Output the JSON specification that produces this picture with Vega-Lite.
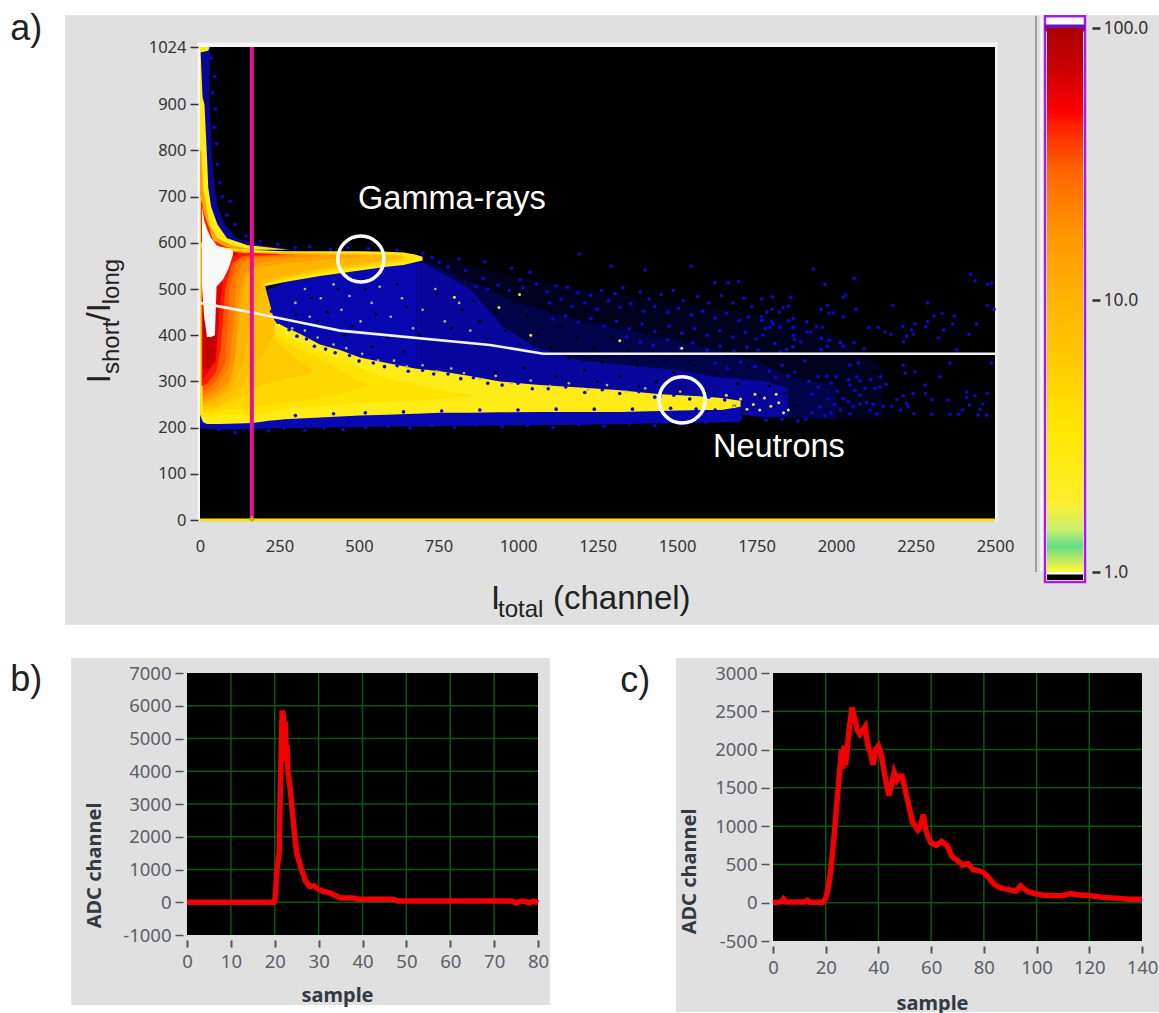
{
"$schema":"https://vega.github.io/schema/vega-lite/v6.json",
"background":"white",
"padding":{"left":10,"top":11,"right":0,"bottom":0},
"config":{"view":{"stroke":null},"font":"Noto Sans"},
"columns":2,
"align":"none",
"bounds":"flush",
"spacing":{"row":153,"column":50},
"concat":[
{"width":536,"height":473,
"encoding":{
"x":{"field":"x","type":"quantitative","scale":{"domain":[0,2500],"range":[13,808],"nice":false,"zero":false},
"axis":{"title":null,"values":[0,250,500,750,1000,1250,1500,1750,2000,2250,2500],"labelExpr":"''+datum.value","grid":false,"domain":false,"ticks":false,"labelPadding":18,"labelFontSize":16.5,"labelColor":"#333333","labelOverlap":false,"labelFlush":false,"zindex":1}},
"y":{"field":"y","type":"quantitative","scale":{"domain":[0,1024],"nice":false,"zero":false},
"axis":{"title":null,"values":[0,100,200,300,400,500,600,700,800,900,1024],"labelExpr":"''+datum.value","grid":false,"domain":false,"offset":-11,"tickSize":8,"tickColor":"#333333","tickWidth":1.5,"labelPadding":4,"labelFontSize":16.5,"labelColor":"#333333","labelOverlap":false,"labelFlush":false,"zindex":1}}
},
"layer":[
{"data":{"values":[{"x":-424.5,"x2":3016,"y":1093,"y2":-227}]},"mark":{"type":"rect","color":"#e0e0e0","clip":false},"encoding":{"x2":{"field":"x2"},"y2":{"field":"y2"}}},
{"data":{"values":[{"x":-8,"x2":0,"y":-3,"y2":1032},{"x":-8,"x2":2508,"y":1024,"y2":1034},{"x":2500,"x2":2508,"y":-3,"y2":1032}]},"mark":{"type":"rect","color":"#f6f6f6","clip":false},"encoding":{"x2":{"field":"x2"},"y2":{"field":"y2"}}},
{"data":{"values":[{"x":0,"x2":2500,"y":0,"y2":1024}]},"mark":{"type":"rect","color":"#000000"},"encoding":{"x2":{"field":"x2"},"y2":{"field":"y2"}}},
{"data":{"values":[
{"g":"s1","c":0.36,"x":680,"y":320,"y2":575},{"g":"s1","c":0.36,"x":800,"y":310,"y2":560},{"g":"s1","c":0.36,"x":1000,"y":290,"y2":525},{"g":"s1","c":0.36,"x":1200,"y":280,"y2":500},{"g":"s1","c":0.36,"x":1500,"y":260,"y2":470},{"g":"s1","c":0.36,"x":1800,"y":222,"y2":440},{"g":"s1","c":0.36,"x":2000,"y":218,"y2":400},{"g":"s1","c":0.36,"x":2150,"y":218,"y2":330},
{"g":"s2","c":0.47,"x":680,"y":322,"y2":570},{"g":"s2","c":0.47,"x":760,"y":315,"y2":545},{"g":"s2","c":0.47,"x":1000,"y":290,"y2":470},{"g":"s2","c":0.47,"x":1200,"y":282,"y2":430},{"g":"s2","c":0.47,"x":1500,"y":262,"y2":390},{"g":"s2","c":0.47,"x":1750,"y":222,"y2":345},{"g":"s2","c":0.47,"x":1850,"y":222,"y2":310},{"g":"s2","c":0.47,"x":2000,"y":218,"y2":290},
{"g":"s3","c":0.78,"x":680,"y":325,"y2":565},{"g":"s3","c":0.78,"x":760,"y":318,"y2":535},{"g":"s3","c":0.78,"x":850,"y":308,"y2":500},{"g":"s3","c":0.78,"x":950,"y":298,"y2":420},{"g":"s3","c":0.78,"x":1050,"y":290,"y2":375},{"g":"s3","c":0.78,"x":1200,"y":282,"y2":345},{"g":"s3","c":0.78,"x":1500,"y":260,"y2":325},{"g":"s3","c":0.78,"x":1620,"y":235,"y2":310},{"g":"s3","c":0.78,"x":1780,"y":222,"y2":300},{"g":"s3","c":0.78,"x":1850,"y":225,"y2":285},
{"g":"d1","c":0.88,"x":198,"y":470,"y2":495},{"g":"d1","c":0.88,"x":215,"y":450,"y2":500},{"g":"d1","c":0.88,"x":236,"y":420,"y2":505},{"g":"d1","c":0.88,"x":267,"y":410,"y2":515},{"g":"d1","c":0.88,"x":300,"y":402,"y2":520},{"g":"d1","c":0.88,"x":345,"y":385,"y2":530},{"g":"d1","c":0.88,"x":400,"y":370,"y2":538},{"g":"d1","c":0.88,"x":460,"y":355,"y2":545},{"g":"d1","c":0.88,"x":520,"y":345,"y2":550},{"g":"d1","c":0.88,"x":600,"y":335,"y2":556},{"g":"d1","c":0.88,"x":680,"y":325,"y2":570},
{"g":"b1","c":0.88,"x":0,"y":198,"y2":230},{"g":"b1","c":0.88,"x":100,"y":196,"y2":230},{"g":"b1","c":0.88,"x":195,"y":198,"y2":235},{"g":"b1","c":0.88,"x":560,"y":202,"y2":240},{"g":"b1","c":0.88,"x":1200,"y":206,"y2":240},{"g":"b1","c":0.88,"x":1700,"y":212,"y2":262}
]},"mark":{"type":"area","clip":false,"opacity":1,"line":false},"encoding":{"y2":{"field":"y2"},"detail":{"field":"g","type":"nominal"},
"color":{"field":"c","type":"quantitative","legend":null,"scale":{"type":"log","domain":[0.3,0.9,0.99,1,1.24,1.43,1.79,3.24,5.67,10,16.9,29.6,44,49,73,100,101,120],"range":["#000000","#0808b4","#0808b4","#ffff30","#66dd88","#c8f070","#ffee30","#ffe800","#ffcc00","#ffb400","#ff9800","#ff6600","#ff2000","#ff0000","#c80000","#aa0000","#f8f8f8","#f8f8f8"],"interpolate":"rgb"}}}},
{"data":{"values":[
{"g":"t0","c":0.75,"y":1024,"x":0,"x2":32},{"g":"t0","c":0.75,"y":916,"x":0,"x2":30},{"g":"t0","c":0.75,"y":786,"x":0,"x2":38},{"g":"t0","c":0.75,"y":720,"x":0,"x2":46},{"g":"t0","c":0.75,"y":678,"x":0,"x2":56},{"g":"t0","c":0.75,"y":640,"x":0,"x2":78},{"g":"t0","c":0.75,"y":610,"x":0,"x2":115},{"g":"t0","c":0.75,"y":595,"x":0,"x2":190},{"g":"t0","c":0.75,"y":585,"x":0,"x2":300},
{"g":"t1","c":2.5,"y":1024,"x":0,"x2":30},{"g":"t1","c":2.5,"y":1016,"x":0,"x2":26},{"g":"t1","c":2.5,"y":1012,"x":0,"x2":2},{"g":"t1","c":2.5,"y":916,"x":0,"x2":8},{"g":"t1","c":2.5,"y":900,"x":0,"x2":14},{"g":"t1","c":2.5,"y":786,"x":0,"x2":22},{"g":"t1","c":2.5,"y":720,"x":0,"x2":26},{"g":"t1","c":2.5,"y":678,"x":0,"x2":35},{"g":"t1","c":2.5,"y":640,"x":0,"x2":55},{"g":"t1","c":2.5,"y":610,"x":0,"x2":85},{"g":"t1","c":2.5,"y":595,"x":0,"x2":150},{"g":"t1","c":2.5,"y":585,"x":0,"x2":280},
{"g":"t2","c":14,"y":800,"x":0,"x2":4},{"g":"t2","c":14,"y":720,"x":0,"x2":10},{"g":"t2","c":14,"y":678,"x":0,"x2":20},{"g":"t2","c":14,"y":640,"x":0,"x2":30},{"g":"t2","c":14,"y":610,"x":0,"x2":55},{"g":"t2","c":14,"y":595,"x":0,"x2":100},{"g":"t2","c":14,"y":585,"x":0,"x2":170},
{"g":"t3","c":45,"y":690,"x":0,"x2":5},{"g":"t3","c":45,"y":660,"x":0,"x2":14},{"g":"t3","c":45,"y":630,"x":0,"x2":30},{"g":"t3","c":45,"y":606,"x":0,"x2":40},{"g":"t3","c":45,"y":593,"x":0,"x2":75},{"g":"t3","c":45,"y":583,"x":0,"x2":120}
]},"mark":{"type":"area","orient":"horizontal","opacity":1,"line":false},"encoding":{"x2":{"field":"x2"},"detail":{"field":"g","type":"nominal"},
"color":{"field":"c","type":"quantitative","legend":null,"scale":{"type":"log","domain":[0.3,0.9,0.99,1,1.24,1.43,1.79,3.24,5.67,10,16.9,29.6,44,49,73,100,101,120],"range":["#000000","#0808b4","#0808b4","#ffff30","#66dd88","#c8f070","#ffee30","#ffe800","#ffcc00","#ffb400","#ff9800","#ff6600","#ff2000","#ff0000","#c80000","#aa0000","#f8f8f8","#f8f8f8"],"interpolate":"rgb"}}}},
{"data":{"values":[
{"g":"h","c":2.5,"x":0,"y":228,"y2":600},{"g":"h","c":2.5,"x":9,"y":212,"y2":600},{"g":"h","c":2.5,"x":22,"y":208,"y2":600},{"g":"h","c":2.5,"x":60,"y":208,"y2":590},{"g":"h","c":2.5,"x":120,"y":209,"y2":586},{"g":"h","c":2.5,"x":165,"y":210,"y2":584},{"g":"h","c":2.5,"x":190,"y":212,"y2":560},{"g":"h","c":2.5,"x":200,"y":213,"y2":500},{"g":"h","c":2.5,"x":215,"y":215,"y2":460},{"g":"h","c":2.5,"x":236,"y":216,"y2":430},{"g":"h","c":2.5,"x":267,"y":218,"y2":418},{"g":"h","c":2.5,"x":314,"y":220,"y2":403},{"g":"h","c":2.5,"x":377,"y":222,"y2":380},{"g":"h","c":2.5,"x":440,"y":224,"y2":368},{"g":"h","c":2.5,"x":503,"y":226,"y2":352},{"g":"h","c":2.5,"x":588,"y":228,"y2":340},{"g":"h","c":2.5,"x":676,"y":230,"y2":328},{"g":"h","c":2.5,"x":755,"y":232,"y2":322},{"g":"h","c":2.5,"x":849,"y":232,"y2":312},{"g":"h","c":2.5,"x":943,"y":233,"y2":300},{"g":"h","c":2.5,"x":1069,"y":234,"y2":292},{"g":"h","c":2.5,"x":1195,"y":234,"y2":287},{"g":"h","c":2.5,"x":1321,"y":234,"y2":281},{"g":"h","c":2.5,"x":1447,"y":236,"y2":272},{"g":"h","c":2.5,"x":1572,"y":238,"y2":268},{"g":"h","c":2.5,"x":1640,"y":238,"y2":264},{"g":"h","c":2.5,"x":1700,"y":245,"y2":258},
{"g":"bh","c":2.5,"x":100,"y":500,"y2":586},{"g":"bh","c":2.5,"x":195,"y":505,"y2":584},{"g":"bh","c":2.5,"x":267,"y":515,"y2":582},{"g":"bh","c":2.5,"x":377,"y":528,"y2":582},{"g":"bh","c":2.5,"x":503,"y":540,"y2":582},{"g":"bh","c":2.5,"x":588,"y":548,"y2":581},{"g":"bh","c":2.5,"x":640,"y":552,"y2":579},{"g":"bh","c":2.5,"x":676,"y":558,"y2":575},{"g":"bh","c":2.5,"x":700,"y":562,"y2":570},
{"g":"w35","c":3.5,"x":9,"y":225,"y2":595},{"g":"w35","c":3.5,"x":40,"y":222,"y2":592},{"g":"w35","c":3.5,"x":79,"y":230,"y2":590},{"g":"w35","c":3.5,"x":120,"y":228,"y2":586},{"g":"w35","c":3.5,"x":165,"y":225,"y2":583},{"g":"w35","c":3.5,"x":190,"y":228,"y2":560},{"g":"w35","c":3.5,"x":215,"y":232,"y2":470},{"g":"w35","c":3.5,"x":236,"y":236,"y2":420},{"g":"w35","c":3.5,"x":267,"y":240,"y2":400},{"g":"w35","c":3.5,"x":314,"y":243,"y2":385},{"g":"w35","c":3.5,"x":377,"y":247,"y2":365},{"g":"w35","c":3.5,"x":440,"y":250,"y2":345},{"g":"w35","c":3.5,"x":503,"y":253,"y2":330},{"g":"w35","c":3.5,"x":588,"y":256,"y2":305},{"g":"w35","c":3.5,"x":676,"y":258,"y2":295},{"g":"w35","c":3.5,"x":755,"y":262,"y2":280},{"g":"w35","c":3.5,"x":849,"y":268,"y2":272},
{"g":"b35","c":3.5,"x":195,"y":510,"y2":581},{"g":"b35","c":3.5,"x":377,"y":532,"y2":580},{"g":"b35","c":3.5,"x":503,"y":545,"y2":578},{"g":"b35","c":3.5,"x":676,"y":562,"y2":574},
{"g":"w45","c":4.5,"x":9,"y":232,"y2":590},{"g":"w45","c":4.5,"x":40,"y":232,"y2":588},{"g":"w45","c":4.5,"x":79,"y":240,"y2":586},{"g":"w45","c":4.5,"x":120,"y":240,"y2":584},{"g":"w45","c":4.5,"x":165,"y":242,"y2":582},{"g":"w45","c":4.5,"x":190,"y":245,"y2":555},{"g":"w45","c":4.5,"x":215,"y":248,"y2":450},{"g":"w45","c":4.5,"x":236,"y":250,"y2":405},{"g":"w45","c":4.5,"x":267,"y":255,"y2":385},{"g":"w45","c":4.5,"x":314,"y":258,"y2":370},{"g":"w45","c":4.5,"x":377,"y":265,"y2":350},{"g":"w45","c":4.5,"x":440,"y":272,"y2":325},{"g":"w45","c":4.5,"x":503,"y":285,"y2":300},{"g":"w45","c":4.5,"x":530,"y":292,"y2":294},
{"g":"b5","c":5,"x":195,"y":512,"y2":580},{"g":"b5","c":5,"x":377,"y":536,"y2":579},{"g":"b5","c":5,"x":503,"y":548,"y2":577},{"g":"b5","c":5,"x":640,"y":560,"y2":572},
{"g":"w6","c":6,"x":9,"y":238,"y2":590},{"g":"w6","c":6,"x":40,"y":240,"y2":587},{"g":"w6","c":6,"x":79,"y":250,"y2":585},{"g":"w6","c":6,"x":120,"y":262,"y2":582},{"g":"w6","c":6,"x":165,"y":280,"y2":580},{"g":"w6","c":6,"x":190,"y":290,"y2":545},{"g":"w6","c":6,"x":215,"y":296,"y2":440},{"g":"w6","c":6,"x":236,"y":302,"y2":390},{"g":"w6","c":6,"x":267,"y":305,"y2":370},{"g":"w6","c":6,"x":314,"y":312,"y2":345},{"g":"w6","c":6,"x":350,"y":320,"y2":330},
{"g":"w75","c":7.5,"x":9,"y":245,"y2":590},{"g":"w75","c":7.5,"x":50,"y":247,"y2":587},{"g":"w75","c":7.5,"x":79,"y":257,"y2":585},{"g":"w75","c":7.5,"x":110,"y":272,"y2":582},{"g":"w75","c":7.5,"x":140,"y":300,"y2":580},{"g":"w75","c":7.5,"x":165,"y":330,"y2":578},{"g":"w75","c":7.5,"x":190,"y":350,"y2":540},{"g":"w75","c":7.5,"x":215,"y":380,"y2":480},{"g":"w75","c":7.5,"x":236,"y":410,"y2":425},
{"g":"b75","c":7.5,"x":150,"y":500,"y2":580},{"g":"b75","c":7.5,"x":267,"y":525,"y2":578},{"g":"b75","c":7.5,"x":377,"y":542,"y2":577},{"g":"b75","c":7.5,"x":503,"y":553,"y2":575},{"g":"b75","c":7.5,"x":588,"y":562,"y2":574},{"g":"b75","c":7.5,"x":640,"y":568,"y2":572},
{"g":"c10","c":10,"x":9,"y":250,"y2":590},{"g":"c10","c":10,"x":50,"y":258,"y2":587},{"g":"c10","c":10,"x":79,"y":272,"y2":585},{"g":"c10","c":10,"x":110,"y":300,"y2":582},{"g":"c10","c":10,"x":135,"y":340,"y2":580},{"g":"c10","c":10,"x":160,"y":440,"y2":578},{"g":"c10","c":10,"x":195,"y":520,"y2":577},{"g":"c10","c":10,"x":267,"y":528,"y2":577},{"g":"c10","c":10,"x":377,"y":546,"y2":576},{"g":"c10","c":10,"x":503,"y":556,"y2":575},{"g":"c10","c":10,"x":588,"y":565,"y2":573},
{"g":"c14","c":14,"x":9,"y":255,"y2":590},{"g":"c14","c":14,"x":50,"y":265,"y2":587},{"g":"c14","c":14,"x":85,"y":285,"y2":585},{"g":"c14","c":14,"x":105,"y":320,"y2":583},{"g":"c14","c":14,"x":122,"y":425,"y2":582},{"g":"c14","c":14,"x":140,"y":525,"y2":580},{"g":"c14","c":14,"x":170,"y":545,"y2":578},{"g":"c14","c":14,"x":267,"y":556,"y2":576},{"g":"c14","c":14,"x":377,"y":563,"y2":574},{"g":"c14","c":14,"x":503,"y":570,"y2":573},
{"g":"c18","c":18,"x":9,"y":258,"y2":590},{"g":"c18","c":18,"x":50,"y":275,"y2":586},{"g":"c18","c":18,"x":90,"y":300,"y2":584},{"g":"c18","c":18,"x":110,"y":350,"y2":582},{"g":"c18","c":18,"x":122,"y":480,"y2":580},{"g":"c18","c":18,"x":135,"y":530,"y2":578},{"g":"c18","c":18,"x":190,"y":558,"y2":577},{"g":"c18","c":18,"x":267,"y":565,"y2":576},{"g":"c18","c":18,"x":377,"y":570,"y2":574},
{"g":"c24","c":24,"x":9,"y":268,"y2":588},{"g":"c24","c":24,"x":50,"y":285,"y2":586},{"g":"c24","c":24,"x":90,"y":330,"y2":584},{"g":"c24","c":24,"x":105,"y":420,"y2":582},{"g":"c24","c":24,"x":115,"y":520,"y2":580},{"g":"c24","c":24,"x":135,"y":560,"y2":578},{"g":"c24","c":24,"x":195,"y":568,"y2":577},{"g":"c24","c":24,"x":300,"y":571,"y2":575},
{"g":"c32","c":32,"x":9,"y":278,"y2":588},{"g":"c32","c":32,"x":50,"y":300,"y2":586},{"g":"c32","c":32,"x":79,"y":340,"y2":585},{"g":"c32","c":32,"x":94,"y":500,"y2":582},{"g":"c32","c":32,"x":110,"y":550,"y2":580},{"g":"c32","c":32,"x":135,"y":568,"y2":578},{"g":"c32","c":32,"x":267,"y":573,"y2":575},
{"g":"c45","c":45,"x":5,"y":290,"y2":590},{"g":"c45","c":45,"x":22,"y":295,"y2":590},{"g":"c45","c":45,"x":50,"y":320,"y2":586},{"g":"c45","c":45,"x":65,"y":370,"y2":585},{"g":"c45","c":45,"x":80,"y":500,"y2":582},{"g":"c45","c":45,"x":100,"y":555,"y2":580},{"g":"c45","c":45,"x":135,"y":572,"y2":578},{"g":"c45","c":45,"x":250,"y":574,"y2":576},
{"g":"c60","c":60,"x":9,"y":305,"y2":590},{"g":"c60","c":60,"x":25,"y":320,"y2":590},{"g":"c60","c":60,"x":50,"y":345,"y2":586},{"g":"c60","c":60,"x":62,"y":460,"y2":584},{"g":"c60","c":60,"x":80,"y":560,"y2":580},{"g":"c60","c":60,"x":120,"y":575,"y2":578},
{"g":"c75","c":75,"x":9,"y":325,"y2":450},{"g":"c75","c":75,"x":30,"y":330,"y2":420},{"g":"c75","c":75,"x":45,"y":345,"y2":450},{"g":"c75","c":75,"x":52,"y":400,"y2":470},
{"g":"wh","c":110,"x":6,"y":510,"y2":680},{"g":"wh","c":110,"x":13,"y":440,"y2":650},{"g":"wh","c":110,"x":22,"y":396,"y2":630},{"g":"wh","c":110,"x":35,"y":396,"y2":610},{"g":"wh","c":110,"x":47,"y":400,"y2":600},{"g":"wh","c":110,"x":52,"y":505,"y2":595},{"g":"wh","c":110,"x":72,"y":520,"y2":590},{"g":"wh","c":110,"x":90,"y":545,"y2":586},{"g":"wh","c":110,"x":104,"y":575,"y2":583}
]},"mark":{"type":"area","opacity":1,"line":false},"encoding":{"y2":{"field":"y2"},"detail":{"field":"g","type":"nominal"},
"color":{"field":"c","type":"quantitative","legend":null,"scale":{"type":"log","domain":[0.3,0.9,0.99,1,1.24,1.43,1.79,3.24,5.67,10,16.9,29.6,44,49,73,100,101,120],"range":["#000000","#0808b4","#0808b4","#ffff30","#66dd88","#c8f070","#ffee30","#ffe800","#ffcc00","#ffb400","#ff9800","#ff6600","#ff2000","#ff0000","#c80000","#aa0000","#f8f8f8","#f8f8f8"],"interpolate":"rgb"}}}},
{"data":{"values":[{"x":0,"x2":3,"y":228,"y2":700},{"x":0,"x2":2500,"y":-3,"y2":3}]},"mark":{"type":"rect","color":"#f5e020","clip":false},"encoding":{"x2":{"field":"x2"},"y2":{"field":"y2"}}},
{"data":{"values":[
{"x":1929,"y":544},{"x":2057,"y":523},{"x":1965,"y":510},{"x":2423,"y":532},{"x":2437,"y":518},{"x":2477,"y":510},{"x":2489,"y":513},{"x":2031,"y":487},{"x":2023,"y":482},{"x":1766,"y":478},{"x":1800,"y":483},{"x":1857,"y":482},{"x":1850,"y":463},{"x":1834,"y":460},{"x":1822,"y":450},{"x":1798,"y":456},{"x":1782,"y":450},{"x":1766,"y":440},{"x":1766,"y":432},{"x":1953,"y":456},{"x":1973,"y":465},{"x":2063,"y":456},{"x":1978,"y":448},{"x":1992,"y":448},{"x":2023,"y":440},{"x":2178,"y":465},{"x":2288,"y":470},{"x":2477,"y":465},{"x":2497,"y":456},{"x":2308,"y":442},{"x":2334,"y":447},{"x":2372,"y":441},{"x":1908,"y":429},{"x":1866,"y":436},{"x":1850,"y":431},{"x":1798,"y":429},{"x":1803,"y":424},{"x":1777,"y":414},{"x":1792,"y":417},{"x":1824,"y":417},{"x":1866,"y":417},{"x":1939,"y":419},{"x":1957,"y":417},{"x":2102,"y":417},{"x":2133,"y":417},{"x":2210,"y":419},{"x":2248,"y":425},{"x":2288,"y":429},{"x":2282,"y":419},{"x":2367,"y":424},{"x":2442,"y":425},{"x":2339,"y":411},{"x":1908,"y":407},{"x":1920,"y":407},{"x":2154,"y":407},{"x":2173,"y":402},{"x":2238,"y":411},{"x":2243,"y":402},{"x":2222,"y":398},{"x":2212,"y":386},{"x":2322,"y":394},{"x":2418,"y":402},{"x":1771,"y":400},{"x":1866,"y":400},{"x":1869,"y":391},{"x":1808,"y":382},{"x":1889,"y":386},{"x":1955,"y":393},{"x":1979,"y":389},{"x":2013,"y":384},{"x":2057,"y":384},{"x":1973,"y":376},{"x":2023,"y":376},{"x":1953,"y":369},{"x":2088,"y":371},{"x":1845,"y":369},{"x":1864,"y":375},{"x":2379,"y":369},{"x":1824,"y":364},
{"x":1902,"y":344},{"x":2044,"y":335},{"x":2070,"y":340},{"x":2212,"y":335},{"x":2217,"y":318},{"x":2248,"y":321},{"x":2358,"y":340},{"x":2489,"y":340},{"x":2327,"y":310},{"x":2140,"y":310},{"x":2157,"y":294},{"x":2109,"y":304},{"x":2075,"y":301},{"x":2065,"y":310},{"x":2039,"y":304},{"x":2000,"y":310},{"x":1971,"y":311},{"x":1944,"y":310},{"x":2280,"y":292},{"x":2282,"y":274},{"x":2411,"y":277},{"x":2476,"y":274},{"x":2437,"y":269},{"x":2411,"y":265},{"x":2243,"y":274},{"x":2212,"y":269},{"x":2191,"y":261},{"x":2301,"y":261},{"x":2353,"y":259},{"x":2419,"y":249},{"x":2461,"y":251},{"x":2453,"y":239},{"x":2398,"y":238},{"x":2222,"y":252},{"x":2227,"y":245},{"x":2175,"y":246},{"x":2149,"y":246},{"x":2203,"y":238},{"x":2245,"y":230},{"x":2301,"y":229},{"x":2358,"y":229},{"x":2385,"y":229},{"x":2447,"y":227},{"x":2474,"y":227},{"x":2128,"y":230},{"x":2107,"y":238},{"x":2096,"y":254},{"x":2117,"y":251},{"x":2075,"y":270},{"x":2091,"y":285},{"x":2123,"y":285},{"x":2138,"y":288},{"x":2044,"y":292},{"x":2060,"y":281},{"x":2023,"y":263},{"x":2039,"y":256},{"x":2054,"y":245},{"x":2044,"y":230},{"x":2013,"y":238},{"x":2075,"y":251},
{"x":896,"y":559},{"x":980,"y":545},{"x":1038,"y":536},{"x":1193,"y":576},{"x":1294,"y":550},{"x":1399,"y":541},{"x":1546,"y":550},{"x":1619,"y":514},{"x":1661,"y":514},{"x":1693,"y":516},{"x":891,"y":523},{"x":1006,"y":520},
{"x":868,"y":505},{"x":905,"y":500},{"x":938,"y":508},{"x":972,"y":497},{"x":1015,"y":503},{"x":1058,"y":511},{"x":1092,"y":494},{"x":1120,"y":507},{"x":1155,"y":504},{"x":1188,"y":492},{"x":1228,"y":486},{"x":1262,"y":497},{"x":1305,"y":490},{"x":1330,"y":503},{"x":1385,"y":494},{"x":1412,"y":479},{"x":1450,"y":488},{"x":1488,"y":497},{"x":1520,"y":475},{"x":1565,"y":484},{"x":1600,"y":470},{"x":1640,"y":486},{"x":1675,"y":470},{"x":1710,"y":480},{"x":1735,"y":462},
{"x":1100,"y":470},{"x":1135,"y":478},{"x":1170,"y":462},{"x":1210,"y":470},{"x":1248,"y":456},{"x":1285,"y":474},{"x":1320,"y":460},{"x":1355,"y":468},{"x":1395,"y":452},{"x":1430,"y":462},{"x":1470,"y":450},{"x":1505,"y":458},{"x":1545,"y":444},{"x":1580,"y":452},{"x":1620,"y":438},{"x":1655,"y":448},{"x":1695,"y":432},{"x":1725,"y":440},
{"x":1110,"y":435},{"x":1150,"y":442},{"x":1190,"y":428},{"x":1230,"y":436},{"x":1270,"y":420},{"x":1310,"y":430},{"x":1350,"y":414},{"x":1390,"y":424},{"x":1430,"y":408},{"x":1475,"y":420},{"x":1515,"y":404},{"x":1555,"y":414},{"x":1595,"y":400},{"x":1635,"y":410},{"x":1675,"y":396},{"x":1715,"y":406},{"x":1748,"y":392},
{"x":1340,"y":396},{"x":1385,"y":385},{"x":1425,"y":378},{"x":1470,"y":390},{"x":1510,"y":372},{"x":1550,"y":384},{"x":1595,"y":368},{"x":1635,"y":376},{"x":1680,"y":366},{"x":1720,"y":374},{"x":1755,"y":368},
{"x":1620,"y":340},{"x":1660,"y":328},{"x":1700,"y":342},{"x":1745,"y":332},{"x":1790,"y":322},{"x":1830,"y":335},{"x":1870,"y":320},{"x":1810,"y":308},{"x":1850,"y":312},{"x":1915,"y":300},{"x":1945,"y":288},{"x":1985,"y":296},{"x":2005,"y":278},{"x":1925,"y":272},{"x":1975,"y":262},{"x":1950,"y":245},{"x":1995,"y":250},{"x":1925,"y":232},{"x":1965,"y":226},{"x":1985,"y":232},{"x":1905,"y":218},{"x":1880,"y":214},{"x":1830,"y":218},{"x":1780,"y":216},
{"x":60,"y":196},{"x":110,"y":190},{"x":160,"y":197},{"x":215,"y":193},{"x":265,"y":199},{"x":330,"y":194},{"x":390,"y":199},{"x":450,"y":196},{"x":520,"y":201},{"x":590,"y":203},{"x":660,"y":199},{"x":730,"y":204},{"x":800,"y":200},{"x":870,"y":206},{"x":950,"y":202},{"x":1030,"y":205},{"x":1110,"y":200},{"x":1190,"y":207},{"x":1270,"y":203},{"x":1350,"y":209},{"x":1430,"y":204},{"x":1510,"y":208},{"x":1590,"y":212},{"x":1650,"y":216},{"x":1700,"y":221},{"x":1730,"y":231},
{"x":35,"y":1000},{"x":45,"y":960},{"x":40,"y":925},{"x":48,"y":890},{"x":44,"y":850},{"x":52,"y":815},{"x":55,"y":770},{"x":62,"y":730},{"x":70,"y":700},{"x":95,"y":690},{"x":85,"y":660},{"x":110,"y":640},{"x":145,"y":615},{"x":190,"y":603},{"x":245,"y":597},{"x":300,"y":590},{"x":345,"y":592},{"x":410,"y":586},{"x":465,"y":590},{"x":530,"y":588},{"x":620,"y":584},{"x":700,"y":578},{"x":730,"y":568},{"x":752,"y":558},{"x":780,"y":548},{"x":815,"y":565},{"x":835,"y":540},
{"x":225,"y":452},{"x":245,"y":428},{"x":280,"y":412},{"x":305,"y":398},{"x":335,"y":392},{"x":360,"y":376},{"x":395,"y":370},{"x":425,"y":362},{"x":470,"y":356},{"x":500,"y":344},{"x":545,"y":340},{"x":580,"y":332},{"x":620,"y":334},{"x":655,"y":322},{"x":700,"y":324},{"x":735,"y":316},{"x":780,"y":316},{"x":820,"y":306},{"x":860,"y":308},{"x":905,"y":296},{"x":950,"y":292},{"x":1000,"y":296},{"x":1045,"y":284},{"x":1095,"y":284},{"x":1150,"y":288},{"x":1210,"y":276},{"x":1265,"y":282},{"x":1320,"y":274},{"x":1380,"y":278},{"x":1430,"y":266},{"x":1490,"y":270},{"x":1540,"y":262},{"x":1600,"y":266},{"x":1650,"y":260},
{"x":300,"y":226},{"x":420,"y":230},{"x":520,"y":232},{"x":640,"y":234},{"x":760,"y":236},{"x":880,"y":238},{"x":1000,"y":238},{"x":1120,"y":240},{"x":1240,"y":240},{"x":1360,"y":240},{"x":1480,"y":242},{"x":1560,"y":240},{"x":1620,"y":238},{"x":1680,"y":246}
]},"mark":{"type":"circle","size":13,"opacity":1,"color":"#0a0ad0","clip":false}},
{"data":{"values":[
{"x":700,"y":455},{"x":745,"y":490},{"x":790,"y":415},{"x":825,"y":455},{"x":860,"y":475},{"x":880,"y":430},{"x":905,"y":385},{"x":930,"y":450},{"x":960,"y":410},{"x":985,"y":470},{"x":1005,"y":380},{"x":1030,"y":440},{"x":1060,"y":405},{"x":1085,"y":455},{"x":1105,"y":375},{"x":1135,"y":418},{"x":1160,"y":350},{"x":1185,"y":395},{"x":1210,"y":325},{"x":1240,"y":372},{"x":1265,"y":342},{"x":1295,"y":395},{"x":1320,"y":310},{"x":1345,"y":365},{"x":1375,"y":335},{"x":1405,"y":400},{"x":1435,"y":300},{"x":1460,"y":345},{"x":1490,"y":320},{"x":1525,"y":385},{"x":1555,"y":335},{"x":1590,"y":280},{"x":1620,"y":315},{"x":1655,"y":355},{"x":1690,"y":295},{"x":1725,"y":330},{"x":1760,"y":270},{"x":1790,"y":290},{"x":1840,"y":275},{"x":1870,"y":248},{"x":930,"y":320},{"x":1020,"y":330},{"x":1120,"y":310},{"x":1250,"y":300},{"x":1380,"y":290},{"x":1510,"y":285}
]},"mark":{"type":"circle","size":9,"opacity":1,"color":"#000000","clip":false}},
{"data":{"values":[
{"x":300,"y":470},{"x":330,"y":500},{"x":345,"y":440},{"x":380,"y":480},{"x":420,"y":510},{"x":445,"y":455},{"x":470,"y":485},{"x":505,"y":430},{"x":540,"y":470},{"x":565,"y":505},{"x":600,"y":440},{"x":635,"y":480},{"x":670,"y":415},{"x":700,"y":455},{"x":740,"y":500},{"x":770,"y":430},{"x":815,"y":470},{"x":850,"y":410},{"x":290,"y":415},{"x":330,"y":410},{"x":370,"y":395},{"x":420,"y":380},{"x":460,"y":372},{"x":510,"y":360},{"x":560,"y":345},{"x":610,"y":345},{"x":650,"y":332},{"x":700,"y":335},{"x":745,"y":322},{"x":790,"y":328},{"x":830,"y":318},{"x":880,"y":305},{"x":930,"y":312},{"x":980,"y":296},{"x":1040,"y":302},{"x":1100,"y":290},{"x":1160,"y":296},{"x":1220,"y":282},{"x":1280,"y":292},{"x":1340,"y":278},{"x":1400,"y":285},{"x":1450,"y":268},{"x":1510,"y":278}
]},"mark":{"type":"circle","size":7,"opacity":1,"color":"#b8b878","clip":false}},
{"data":{"values":[
{"x":800,"y":482},{"x":940,"y":460},{"x":1005,"y":488},{"x":1040,"y":400},{"x":1320,"y":388},{"x":1515,"y":372},{"x":1700,"y":262},{"x":1740,"y":250},{"x":1760,"y":238},{"x":1655,"y":270},{"x":1680,"y":245},{"x":1720,"y":240},{"x":1775,"y":264},{"x":1795,"y":246},{"x":1820,"y":254},{"x":1850,"y":238},{"x":1745,"y":272},{"x":1812,"y":272},{"x":1835,"y":232}
]},"mark":{"type":"circle","size":9,"opacity":1,"color":"#f2dc50","clip":false}},
{"data":{"values":[
{"x":350,"y":480},{"x":400,"y":450},{"x":435,"y":500},{"x":480,"y":420},{"x":520,"y":500},{"x":555,"y":445},{"x":590,"y":395},{"x":620,"y":510},{"x":650,"y":460},{"x":690,"y":400},{"x":300,"y":445},{"x":370,"y":430},{"x":455,"y":400},{"x":540,"y":375},{"x":640,"y":365}
]},"mark":{"type":"circle","size":8,"opacity":1,"color":"#000000","clip":false}},
{"data":{"values":[{"x":0,"y":470},{"x":157,"y":450},{"x":440,"y":410},{"x":912,"y":379},{"x":1079,"y":360},{"x":2500,"y":360}]},"mark":{"type":"line","color":"#f2f2f2","strokeWidth":2.6,"interpolate":"linear"}},
{"data":{"values":[{"x":163,"y":0,"y2":1024}]},"mark":{"type":"rule","color":"#e8109a","strokeWidth":4},"encoding":{"y2":{"field":"y2"}}},
{"data":{"values":[{"x":163,"y":2}]},"mark":{"type":"point","shape":"cross","size":30,"color":"#c8b020","filled":true,"opacity":1,"clip":false}},
{"data":{"values":[{"x":506,"y":565},{"x":1516,"y":260}]},"mark":{"type":"point","filled":false,"size":2124,"color":"#ffffff","strokeWidth":3.5,"opacity":1}},
{"data":{"values":[{"x":497,"y":695,"t":"Gamma-rays"},{"x":1613,"y":158,"t":"Neutrons"}]},"mark":{"type":"text","font":"Liberation Sans","fontSize":32.5,"align":"left","baseline":"middle","color":"#ffffff","clip":false},"encoding":{"text":{"field":"t"}}},
{"data":{"values":[{"x":915,"y":-172,"t":"I"},{"x":1110,"y":-172,"t":"(channel)"}]},"mark":{"type":"text","font":"Liberation Sans","fontSize":33,"align":"left","baseline":"middle","color":"#222222","clip":false},"encoding":{"text":{"field":"t"}}},
{"data":{"values":[{"x":937,"y":-195,"t":"total"}]},"mark":{"type":"text","font":"Liberation Sans","fontSize":24,"align":"left","baseline":"middle","color":"#222222","clip":false},"encoding":{"text":{"field":"t"}}},
{"data":{"values":[{"x":-597,"y":1062,"t":"a)"}]},"mark":{"type":"text","font":"Liberation Sans","fontSize":36,"align":"left","baseline":"middle","color":"#222222","clip":false},"encoding":{"text":{"field":"t"}}},
{"data":{"values":[{"x":-314,"y":296,"t":"I"},{"x":-314,"y":430,"t":"/I"}]},"mark":{"type":"text","font":"Liberation Sans","fontSize":33,"angle":270,"align":"left","baseline":"middle","color":"#222222","clip":false},"encoding":{"text":{"field":"t"}}},
{"data":{"values":[{"x":-277,"y":316,"t":"short"},{"x":-277,"y":467,"t":"long"}]},"mark":{"type":"text","font":"Liberation Sans","fontSize":24,"angle":270,"align":"left","baseline":"middle","color":"#222222","clip":false},"encoding":{"text":{"field":"t"}}}
]},
{"width":312,"height":473,
"encoding":{
"x":{"field":"x","type":"quantitative","scale":{"domain":[0,1],"range":[272,312],"nice":false,"zero":false},"axis":null},
"y":{"field":"v","type":"quantitative","scale":{"type":"log","domain":[1,100],"range":[525,-19],"nice":false},
"axis":{"title":null,"values":[1,10,100],"format":".1f","orient":"right","offset":7,"grid":false,"domain":false,"tickSize":8,"tickWidth":2.5,"tickColor":"#333333","labelPadding":3,"labelFontSize":17.5,"labelColor":"#333333","labelOverlap":false,"labelFlush":false,"zindex":1}}
},
"layer":[
{"data":{"values":[{"x":-0.12,"x2":-0.03,"v":1,"v2":111}]},"mark":{"type":"rect","color":"#f4f4f4","clip":false},"encoding":{"x2":{"field":"x2"},"y2":{"field":"v2"}}},
{"data":{"values":[{"x":-0.225,"v":1,"v2":111}]},"mark":{"type":"rule","color":"#a0a0a0","strokeWidth":2,"clip":false},"encoding":{"y2":{"field":"v2"}}},
{"data":{"values":[{"x":0,"x2":1,"v":0.918,"v2":110.5}]},"mark":{"type":"rect","color":"#ffffff","stroke":"#a81ee0","strokeWidth":2.5,"clip":false},"encoding":{"x2":{"field":"x2"},"y2":{"field":"v2"}}},
{"data":{"values":[{"x":0.05,"x2":0.95,"v":0.935,"v2":0.98}]},"mark":{"type":"rect","color":"#000000","clip":false},"encoding":{"x2":{"field":"x2"},"y2":{"field":"v2"}}},
{"data":{"values":[{"x":0,"x2":1,"v":97,"v2":103}]},"mark":{"type":"rect","color":"#7010c0","clip":false},"encoding":{"x2":{"field":"x2"},"y2":{"field":"v2"}}},
{"data":{"values":[{"x":0.05,"x2":0.95,"v":1,"v2":100}]},"mark":{"type":"rect","clip":false,"fill":{"gradient":"linear","x1":0,"y1":1,"x2":0,"y2":0,"stops":[{"offset":0,"color":"#ffff30"},{"offset":0.0127,"color":"#e0ee50"},{"offset":0.0467,"color":"#66dd88"},{"offset":0.0777,"color":"#c8f070"},{"offset":0.1264,"color":"#ffee30"},{"offset":0.2553,"color":"#ffe800"},{"offset":0.3768,"color":"#ffcc00"},{"offset":0.5,"color":"#ffb400"},{"offset":0.614,"color":"#ff9800"},{"offset":0.7357,"color":"#ff6600"},{"offset":0.8217,"color":"#ff2000"},{"offset":0.845,"color":"#ff0000"},{"offset":0.9317,"color":"#c80000"},{"offset":1,"color":"#aa0000"}]}},"encoding":{"x2":{"field":"x2"},"y2":{"field":"v2"}}}
]},
{"width":536,"height":262,
"encoding":{
"x":{"field":"x","type":"quantitative","scale":{"domain":[0,80],"range":[0,351],"nice":false,"zero":false},
"axis":{"title":"sample","titleX":150,"titleY":45,"titleFontWeight":"bold","titleFontSize":20,"titleColor":"#333a44","values":[0,10,20,30,40,50,60,70,80],"grid":false,"domain":false,"offset":5,"tickSize":7,"tickWidth":2,"tickColor":"#555555","labelPadding":5,"labelFontSize":18.5,"labelColor":"#5a6068","labelOverlap":false,"labelFlush":false,"zindex":1}},
"y":{"field":"y","type":"quantitative","scale":{"domain":[-1000,7000],"nice":false,"zero":false},
"axis":{"title":"ADC channel","titleX":-79,"titleY":192,"titleFontWeight":"bold","titleFontSize":20,"titleColor":"#333a44","values":[-1000,0,1000,2000,3000,4000,5000,6000,7000],"labelExpr":"''+datum.value","grid":false,"domain":false,"offset":4,"tickSize":8,"tickWidth":1.5,"tickColor":"#555555","labelPadding":4,"labelFontSize":18.5,"labelColor":"#5a6068","labelOverlap":false,"labelFlush":false,"zindex":1}}
},
"layer":[
{"data":{"values":[{"x":-26.4,"x2":82.7,"y":7458,"y2":-3137}]},"mark":{"type":"rect","color":"#e0e0e0","clip":false},"encoding":{"x2":{"field":"x2"},"y2":{"field":"y2"}}},
{"data":{"values":[{"x":0,"x2":80,"y":-1000,"y2":7000}]},"mark":{"type":"rect","color":"#000000"},"encoding":{"x2":{"field":"x2"},"y2":{"field":"y2"}}},
{"data":{"values":[{"x":10,"y":-1000,"y2":7000},{"x":20,"y":-1000,"y2":7000},{"x":30,"y":-1000,"y2":7000},{"x":40,"y":-1000,"y2":7000},{"x":50,"y":-1000,"y2":7000},{"x":60,"y":-1000,"y2":7000},{"x":70,"y":-1000,"y2":7000}]},"mark":{"type":"rule","color":"#0a5a0a","strokeWidth":1.5},"encoding":{"y2":{"field":"y2"}}},
{"data":{"values":[{"y":0,"x":0,"x2":80},{"y":1000,"x":0,"x2":80},{"y":2000,"x":0,"x2":80},{"y":3000,"x":0,"x2":80},{"y":4000,"x":0,"x2":80},{"y":5000,"x":0,"x2":80},{"y":6000,"x":0,"x2":80}]},"mark":{"type":"rule","color":"#0a5a0a","strokeWidth":1.5},"encoding":{"x2":{"field":"x2"}}},
{"data":{"values":[{"x":0,"y":0},{"x":19.8,"y":0},{"x":20,"y":50},{"x":20.2,"y":300},{"x":20.5,"y":1000},{"x":21,"y":1500},{"x":21.2,"y":3000},{"x":21.5,"y":4800},{"x":21.7,"y":5850},{"x":22,"y":5700},{"x":22.2,"y":4300},{"x":22.4,"y":5500},{"x":22.6,"y":4500},{"x":22.8,"y":4800},{"x":23,"y":4000},{"x":23.5,"y":3500},{"x":24,"y":2800},{"x":24.5,"y":2100},{"x":25,"y":1500},{"x":26,"y":1050},{"x":27,"y":650},{"x":28,"y":480},{"x":29,"y":500},{"x":30,"y":400},{"x":31,"y":330},{"x":32,"y":310},{"x":33,"y":260},{"x":34,"y":190},{"x":35,"y":130},{"x":38,"y":130},{"x":39,"y":90},{"x":47,"y":90},{"x":48,"y":40},{"x":74,"y":40},{"x":75,"y":-20},{"x":76,"y":30},{"x":77,"y":30},{"x":78,"y":-20},{"x":79,"y":30},{"x":80,"y":-20}]},"mark":{"type":"line","color":"#f00000","strokeWidth":5.5,"interpolate":"linear"}},
{"data":{"values":[{"x":-40.3,"y":6786,"t":"b)"}]},"mark":{"type":"text","font":"Liberation Sans","fontSize":36,"align":"left","baseline":"middle","color":"#222222","clip":false},"encoding":{"text":{"field":"t"}}}
]},
{"width":369,"height":268,
"encoding":{
"x":{"field":"x","type":"quantitative","scale":{"domain":[0,140],"nice":false,"zero":false},
"axis":{"title":"sample","titleX":159,"titleY":47,"titleFontWeight":"bold","titleFontSize":20,"titleColor":"#333a44","values":[0,20,40,60,80,100,120,140],"grid":false,"domain":false,"offset":5,"tickSize":7,"tickWidth":2,"tickColor":"#555555","labelPadding":5,"labelFontSize":18.5,"labelColor":"#5a6068","labelOverlap":false,"labelFlush":false,"zindex":1}},
"y":{"field":"y","type":"quantitative","scale":{"domain":[-500,3000],"nice":false,"zero":false},
"axis":{"title":"ADC channel","titleX":-70,"titleY":198,"titleFontWeight":"bold","titleFontSize":20,"titleColor":"#333a44","values":[-500,0,500,1000,1500,2000,2500,3000],"labelExpr":"''+datum.value","grid":false,"domain":false,"offset":4,"tickSize":8,"tickWidth":1.5,"tickColor":"#555555","labelPadding":4,"labelFontSize":18.5,"labelColor":"#5a6068","labelOverlap":false,"labelFlush":false,"zindex":1}}
},
"layer":[
{"data":{"values":[{"x":-36.8,"x2":146.4,"y":3196,"y2":-1427}]},"mark":{"type":"rect","color":"#e0e0e0","clip":false},"encoding":{"x2":{"field":"x2"},"y2":{"field":"y2"}}},
{"data":{"values":[{"x":0,"x2":140,"y":-500,"y2":3000}]},"mark":{"type":"rect","color":"#000000"},"encoding":{"x2":{"field":"x2"},"y2":{"field":"y2"}}},
{"data":{"values":[{"x":20,"y":-500,"y2":3000},{"x":40,"y":-500,"y2":3000},{"x":60,"y":-500,"y2":3000},{"x":80,"y":-500,"y2":3000},{"x":100,"y":-500,"y2":3000},{"x":120,"y":-500,"y2":3000}]},"mark":{"type":"rule","color":"#0a5a0a","strokeWidth":1.5},"encoding":{"y2":{"field":"y2"}}},
{"data":{"values":[{"y":0,"x":0,"x2":140},{"y":500,"x":0,"x2":140},{"y":1000,"x":0,"x2":140},{"y":1500,"x":0,"x2":140},{"y":2000,"x":0,"x2":140},{"y":2500,"x":0,"x2":140}]},"mark":{"type":"rule","color":"#0a5a0a","strokeWidth":1.5},"encoding":{"x2":{"field":"x2"}}},
{"data":{"values":[{"x":0,"y":0},{"x":3,"y":10},{"x":4,"y":50},{"x":5,"y":10},{"x":12,"y":10},{"x":13,"y":30},{"x":14,"y":5},{"x":19,"y":5},{"x":20,"y":60},{"x":21,"y":200},{"x":22,"y":450},{"x":23,"y":800},{"x":24,"y":1200},{"x":25,"y":1600},{"x":25.5,"y":1800},{"x":26,"y":2000},{"x":26.5,"y":1750},{"x":27,"y":2050},{"x":27.5,"y":1800},{"x":28,"y":1950},{"x":29,"y":2300},{"x":30,"y":2550},{"x":31,"y":2400},{"x":32,"y":2250},{"x":33,"y":2200},{"x":34,"y":2250},{"x":35,"y":2300},{"x":36,"y":2050},{"x":37,"y":1950},{"x":38,"y":1800},{"x":39,"y":2000},{"x":40,"y":2050},{"x":41,"y":1950},{"x":42,"y":1750},{"x":43,"y":1550},{"x":44,"y":1400},{"x":45,"y":1550},{"x":46,"y":1700},{"x":47,"y":1600},{"x":48,"y":1650},{"x":49,"y":1650},{"x":50,"y":1500},{"x":51,"y":1350},{"x":52,"y":1200},{"x":53,"y":1050},{"x":54,"y":1000},{"x":55,"y":950},{"x":56,"y":1000},{"x":57,"y":1150},{"x":58,"y":950},{"x":59,"y":850},{"x":60,"y":780},{"x":62,"y":750},{"x":64,"y":800},{"x":66,"y":750},{"x":68,"y":600},{"x":70,"y":550},{"x":72,"y":490},{"x":74,"y":510},{"x":76,"y":430},{"x":78,"y":420},{"x":80,"y":390},{"x":82,"y":320},{"x":84,"y":240},{"x":86,"y":200},{"x":88,"y":180},{"x":92,"y":150},{"x":94,"y":220},{"x":96,"y":160},{"x":98,"y":130},{"x":102,"y":100},{"x":106,"y":90},{"x":110,"y":95},{"x":113,"y":120},{"x":116,"y":100},{"x":120,"y":95},{"x":125,"y":70},{"x":130,"y":60},{"x":135,"y":45},{"x":140,"y":45}]},"mark":{"type":"line","color":"#f00000","strokeWidth":5.5,"interpolate":"linear"}},
{"data":{"values":[{"x":-58,"y":2896,"t":"c)"}]},"mark":{"type":"text","font":"Liberation Sans","fontSize":36,"align":"left","baseline":"middle","color":"#222222","clip":false},"encoding":{"text":{"field":"t"}}}
]}
]
}
